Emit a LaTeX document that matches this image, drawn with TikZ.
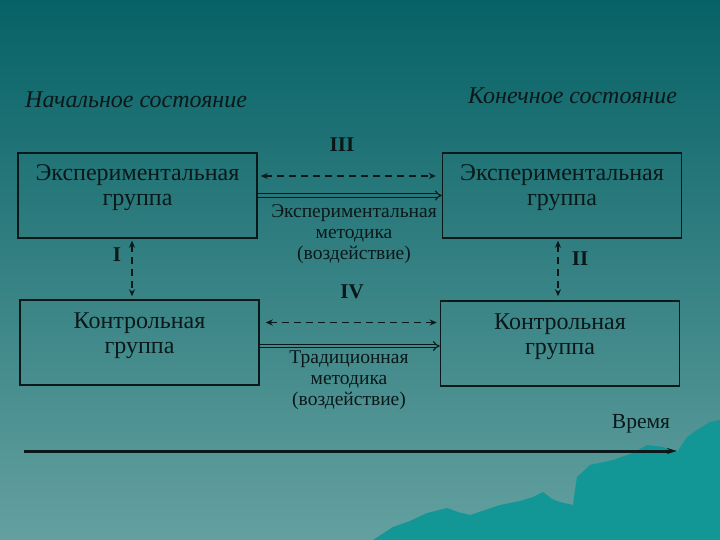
\documentclass[tikz,border=0pt]{standalone}
\usepackage{fontspec}
\setmainfont{Liberation Serif}
\usetikzlibrary{arrows.meta,positioning}
\definecolor{bgtop}{RGB}{6,98,102}
\definecolor{bgbot}{RGB}{100,160,160}
\definecolor{hill}{RGB}{18,150,150}
\definecolor{ink}{RGB}{10,24,26}
\definecolor{gapA}{RGB}{40,120,123}
\definecolor{gapB}{RGB}{66,138,139}

\begin{document}
\begin{tikzpicture}[
  x=1pt, y=-1pt,
  box/.style={draw=ink, line width=1.5pt, minimum width=239pt, minimum height=85pt, inner sep=0pt},
  boxtext/.style={align=center, font=\fontsize{24}{25}\selectfont, text=ink, inner sep=0pt},
  method/.style={align=center, font=\fontsize{19.5}{21}\selectfont, text=ink, inner sep=0pt},
  state/.style={font=\itshape\fontsize{24}{26}\selectfont, text=ink, inner sep=0pt, anchor=west},
  numlabel/.style={font=\bfseries\fontsize{21}{22}\selectfont, text=ink, inner sep=0pt},
  dasharrow/.style={{Stealth[length=7pt,width=6pt]}-{Stealth[length=7pt,width=6pt]}, draw=ink, line width=1.6pt, dash pattern=on 7pt off 5pt},
  actarrow/.style={-{Implies[scale=1.3]}, draw=ink, line width=1.1pt, double distance=2.2pt},
  timearrow/.style={-{Stealth[length=10pt,width=6pt]}, draw=ink, line width=3pt}
]
\shade[top color=bgtop, bottom color=bgbot] (0,0) rectangle (720,540);
\fill[hill] (373,540) -- (393,527) -- (410,521) -- (427,513) -- (447,508) -- (458,512) -- (470,515) -- (500,505)
  -- (520,501) -- (533,497) -- (543,492) -- (552,499) -- (560,502) -- (573,505) -- (575,490) -- (577,477) -- (590,465)
  -- (613,460) -- (633,453) -- (647,445) -- (663,447) -- (677,452) -- (687,437)
  -- (697,430) -- (710,422) -- (720,420) -- (720,540) -- cycle;

\node[state] (startstate) at (25,100) {Начальное состояние};
\node[state] (endstate) at (468,96) {Конечное состояние};

\node[box] (expA) at (137.5,195.5) {};
\node[box] (expB) at (562,195.5) {};
\node[box] (ctrlA) at (139.5,342.5) {};
\node[box] (ctrlB) at (560,343.5) {};

\node[boxtext, below=12pt of expA.north] (expAtext) {Экспериментальная\\группа};
\node[boxtext, below=12pt of expB.north] (expBtext) {Экспериментальная\\группа};
\node[boxtext, below=13pt of ctrlA.north] (ctrlAtext) {Контрольная\\группа};
\node[boxtext, below=13pt of ctrlB.north] (ctrlBtext) {Контрольная\\группа};

\node[numlabel] (n3) at (342,145) {III};
\node[numlabel] (n4) at (352,292) {IV};
\node[numlabel] (n1) at (117,255) {I};
\node[numlabel] (n2) at (580,259) {II};

\draw[dasharrow, shorten <=3pt, shorten >=6pt] ([yshift=19.5pt]expA.east) -- ([yshift=19.5pt]expB.west);
\draw[actarrow, double=gapA] (expA.east) -- (expB.west);
\draw[dasharrow, shorten <=6pt, shorten >=3pt] ([yshift=20pt]ctrlA.east) -- ([yshift=21pt]ctrlB.west);
\draw[actarrow, double=gapB] ([yshift=-3.5pt]ctrlA.east) -- ([yshift=-2.5pt]ctrlB.west);
\draw[dasharrow, shorten <=2pt, shorten >=3pt] ([xshift=-5.5pt]expA.south) -- ([xshift=-7.5pt]ctrlA.north);
\draw[dasharrow, shorten <=2pt, shorten >=4pt] ([xshift=-4pt]expB.south) -- ([xshift=-2pt]ctrlB.north);

\node[method, anchor=north] (expmethod) at (354,204) {Экспериментальная\\методика\\(воздействие)};
\node[method, anchor=north] (tradmethod) at (349,351) {Традиционная\\методика\\(воздействие)};

\node[font=\fontsize{21.5}{22}\selectfont, text=ink, inner sep=0pt] (timelabel) at (641,424) {Время};
\coordinate (t0) at (24,451);
\coordinate (t1) at (677,451);
\draw[timearrow] (t0) -- (t1);
\end{tikzpicture}
\end{document}
